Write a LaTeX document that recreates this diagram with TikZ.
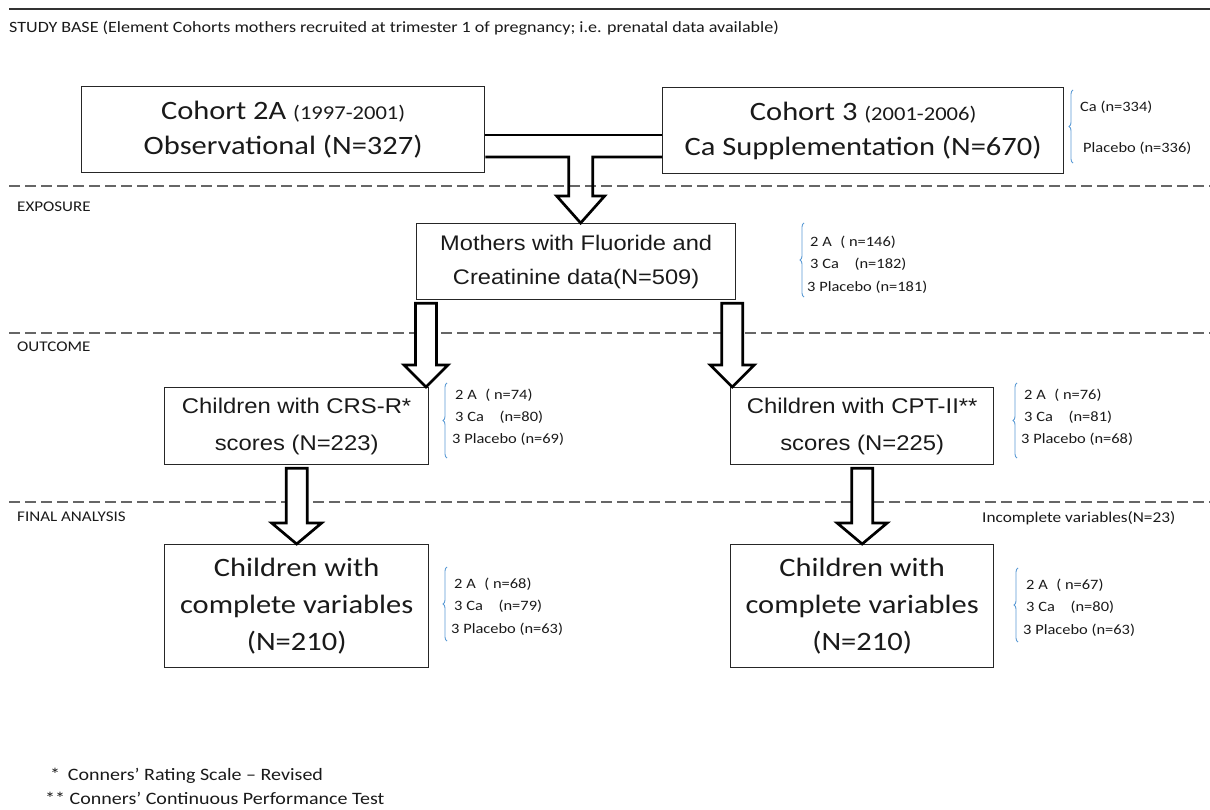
\documentclass[tikz,border=0pt]{standalone}
\usepackage{fontspec}
\setmainfont{Carlito}[FakeStretch=1.15]
\newfontfamily\arialf{Liberation Sans}[FakeStretch=1.12]
\usetikzlibrary{calc,decorations.pathreplacing}
\definecolor{bracec}{HTML}{5B9BD5}
\definecolor{txt}{HTML}{1A1A1A}
% #1 start, #2 tip, #3 head half-width, #4 head length
\newcommand{\hollowdown}[4]{%
  \draw[hollow] let \p1=(#1), \p2=(#2) in
    (\x1-10.5pt,\y1) -- (\x1+10.5pt,\y1) -- (\x1+10.5pt,\y2+#4pt) -- (\x1+#3pt,\y2+#4pt)
    -- (\x1,\y2) -- (\x1-#3pt,\y2+#4pt) -- (\x1-10.5pt,\y2+#4pt) -- cycle;}
\tikzset{
  box/.style={draw=black!85, line width=1.3pt, fill=white, inner sep=0pt, align=center, text=txt, anchor=north west},
  hollow/.style={draw=black, line width=2.7pt, fill=white, line join=miter},
  dashline/.style={draw=black!60, line width=1.2pt, dash pattern=on 11pt off 5pt},
  sec/.style={anchor=west, inner sep=0pt, text=txt, font=\fontsize{14.8}{17}\selectfont},
  lab/.style={anchor=west, inner sep=0pt, text=txt, font=\fontsize{14.3}{16}\selectfont},
  brc/.style={draw=bracec, line width=0.9pt, decorate, decoration={brace, amplitude=4pt}},
}
\begin{document}
\begin{tikzpicture}[x=1pt, y=-1pt]
\useasboundingbox[fill=white] (0,0) rectangle (1210,810);

% top line and section dividers
\draw[black!80, line width=1.3pt] (9,9) -- (1210,9);
\node[sec, font=\fontsize{15.7}{17}\selectfont] (studybase) at (9,28) {STUDY BASE (Element Cohorts mothers recruited at trimester 1 of pregnancy; i.e. prenatal data available)};
\draw[dashline] (9,186) -- (1210,186);
\draw[dashline] (9,333) -- (1210,333);
\draw[dashline] (9,502) -- (1210,502);
\node[sec] (exposure) at (17,207) {EXPOSURE};
\node[sec] (outcome) at (17,347) {OUTCOME};
\node[sec] (final) at (17,517) {FINAL ANALYSIS};

% cohorts
\node[box, minimum width=403pt, minimum height=86pt, font=\fontsize{26.5}{35}\selectfont] (c2a) at (81,86)
  {Cohort 2A {\fontsize{19.6}{35}\selectfont(1997-2001)}\\Observational (N=327)};
\node[box, minimum width=401pt, minimum height=86pt, font=\fontsize{26.5}{35}\selectfont] (c3) at (662,87)
  {Cohort 3 {\fontsize{19.6}{35}\selectfont(2001-2006)}\\Ca Supplementation (N=670)};
\draw[brc] (1073,163) -- (1073,90);
\node[lab] (c3a) at (1080,107) {Ca (n=334)};
\node[lab] (c3b) at (1083,148) {Placebo (n=336)};

% exposure
\node[box, minimum width=319pt, minimum height=76pt, font=\arialf\fontsize{21.1}{34}\selectfont] (mothers) at (416,223)
  {Mothers with Fluoride and\\Creatinine data(N=509)};
\draw[brc] (804,297) -- (804,223);
\node[lab] (m1) at (810,242) {2 A\hspace{0.6em}( n=146)};
\node[lab] (m2) at (810,264) {3 Ca\hspace{1.1em}(n=182)};
\node[lab] (m3) at (807,287) {3 Placebo (n=181)};

% outcome
\node[box, minimum width=264pt, minimum height=77pt, font=\arialf\fontsize{21.3}{37}\selectfont] (crs) at (164,387)
  {Children with CRS-R*\\scores (N=223)};
\node[box, minimum width=263pt, minimum height=77pt, font=\arialf\fontsize{21.3}{37}\selectfont] (cpt) at (730,387)
  {Children with CPT-II**\\scores (N=225)};
\draw[brc] (447,458) -- (447,383);
\node[lab] (r1) at (455,395) {2 A\hspace{0.6em}( n=74)};
\node[lab] (r2) at (455,417) {3 Ca\hspace{1.1em}(n=80)};
\node[lab] (r3) at (452,439) {3 Placebo (n=69)};
\draw[brc] (1017,458) -- (1017,383);
\node[lab] (p1) at (1024,395) {2 A\hspace{0.6em}( n=76)};
\node[lab] (p2) at (1024,417) {3 Ca\hspace{1.1em}(n=81)};
\node[lab] (p3) at (1021,439) {3 Placebo (n=68)};

% final analysis
\node[lab, font=\fontsize{15}{17}\selectfont] (incomplete) at (982,518) {Incomplete variables(N=23)};
\node[box, minimum width=264pt, minimum height=123pt, font=\fontsize{26.5}{37}\selectfont] (fa1) at (164,544)
  {Children with\\complete variables\\(N=210)};
\node[box, minimum width=263pt, minimum height=123pt, font=\fontsize{26.5}{37}\selectfont] (fa2) at (730,544)
  {Children with\\complete variables\\(N=210)};
\draw[brc] (447,641) -- (447,567);
\node[lab] (f1) at (454,584) {2 A\hspace{0.6em}( n=68)};
\node[lab] (f2) at (454,606) {3 Ca\hspace{1.1em}(n=79)};
\node[lab] (f3) at (451,629) {3 Placebo (n=63)};
\draw[brc] (1018,642) -- (1018,568);
\node[lab] (g1) at (1026,585) {2 A\hspace{0.6em}( n=67)};
\node[lab] (g2) at (1026,607) {3 Ca\hspace{1.1em}(n=80)};
\node[lab] (g3) at (1023,630) {3 Placebo (n=63)};

% footnotes
\node[lab, font=\fontsize{17.4}{19}\selectfont] (fn1) at (50,776) {*\hspace{0.45em}Conners’ Rating Scale – Revised};
\node[lab, font=\fontsize{17.4}{19}\selectfont] (fn2) at (45,798) {** Conners’ Continuous Performance Test};

% T-shaped hollow connector from the two cohorts to the mothers box
\coordinate (ttip) at ($(mothers.north)+(4.5,0)$);
\draw[hollow] ($(c2a.north east)+(0,49)$) -- ($(c3.north west)+(0,48)$);
\draw[hollow, fill=none] let \p1=($(c2a.north east)+(0,71)$), \p2=(ttip), \p3=(c3.west) in
  (\p1) -- (\x2-12pt,\y1) -- (\x2-12pt,\y2+27pt) -- (\x2-24pt,\y2+27pt) -- (\p2)
  -- (\x2+24pt,\y2+27pt) -- (\x2+12pt,\y2+27pt) -- (\x2+12pt,\y1) -- (\x3,\y1);

% hollow arrows
\coordinate (a1s) at ($(mothers.south west)+(10,3)$);
\coordinate (a1e) at (a1s |- crs.north);
\hollowdown{a1s}{a1e}{22}{22}
\coordinate (a2s) at ($(mothers.south east)+(-4,3)$);
\coordinate (a2e) at (a2s |- cpt.north);
\hollowdown{a2s}{a2e}{22}{22}
\coordinate (a3s) at ($(crs.south)+(0,3)$);
\hollowdown{a3s}{fa1.north}{25}{21}
\coordinate (a4s) at ($(cpt.south)+(0,3)$);
\hollowdown{a4s}{fa2.north}{25}{21}
\end{tikzpicture}
\end{document}
